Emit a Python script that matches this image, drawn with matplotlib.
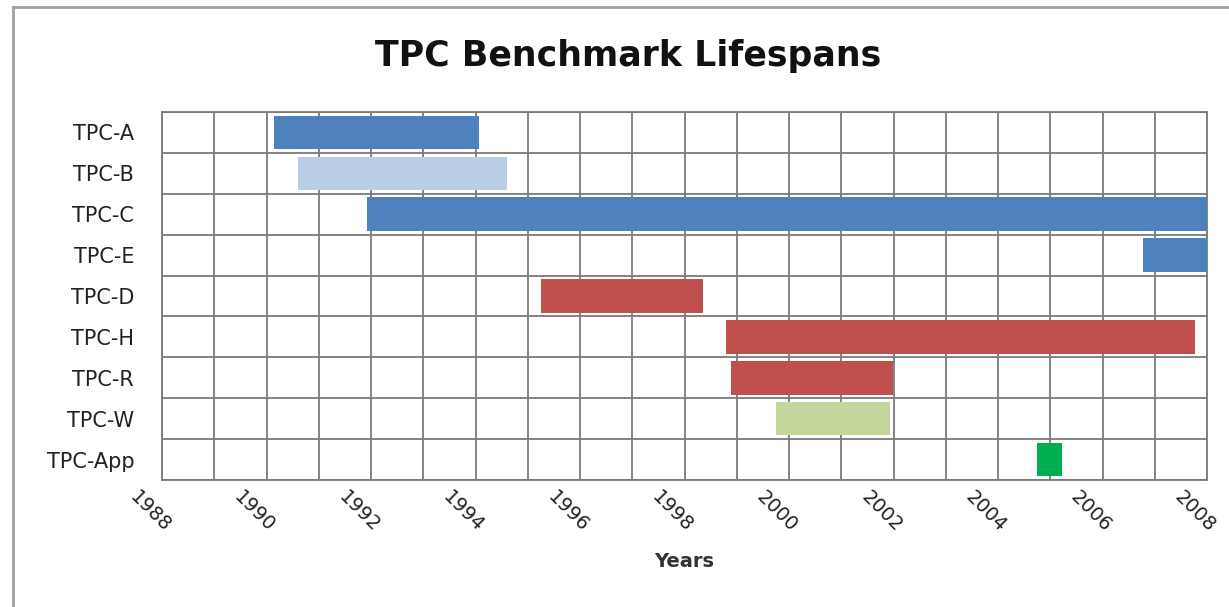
import matplotlib
matplotlib.use("Agg")
import matplotlib.pyplot as plt
import matplotlib.transforms as mtransforms
from matplotlib.lines import Line2D
import numpy as np

# benchmark lifespans (years)
benchmarks = ["TPC-A", "TPC-B", "TPC-C", "TPC-E", "TPC-D", "TPC-H", "TPC-R", "TPC-W", "TPC-App"]
start_year = [1990.14, 1990.6, 1991.92, 2006.78, 1995.25, 1998.79, 1998.89, 1999.76, 2004.74]
end_year = [1994.07, 1994.6, 2008.0, 2008.0, 1998.35, 2007.77, 2002.0, 2001.93, 2005.22]
bar_colors = ["#4F81BD", "#B9CDE5", "#4F81BD", "#4F81BD", "#C0504D",
              "#C0504D", "#C0504D", "#C3D69B", "#00B050"]
tick_years = list(range(1988, 2009, 2))

W, H, DPI = 1229, 607, 100
fig = plt.figure(figsize=(W / DPI, H / DPI), dpi=DPI)
fig.patch.set_facecolor("white")
ax = fig.add_axes([162 / W, 1 - 480 / H, (1207 - 162) / W, (480 - 112) / H])

y = np.arange(len(benchmarks))
widths = np.array(end_year) - np.array(start_year)
ax.barh(y, widths, left=start_year, height=0.82, color=bar_colors, zorder=3)

ax.set_xlim(1988, 2008)
ax.set_ylim(len(benchmarks) - 0.5, -0.5)

# grid: every year vertically, every row boundary horizontally
ax.set_xticks(np.arange(1989, 2009, 2), minor=True)
ax.set_xticks(tick_years)
ax.set_xticklabels([str(t) for t in tick_years])
ax.set_yticks(np.arange(-0.5, len(benchmarks), 1), minor=True)
ax.set_yticks(y)
ax.set_yticklabels(benchmarks, fontsize=15, color="#222222")
ax.xaxis.grid(True, which="both", color="#7a7a7a", linewidth=1.3)
ax.yaxis.grid(True, which="minor", color="#7a7a7a", linewidth=1.3)
ax.set_axisbelow(True)
ax.tick_params(which="both", length=0)
ax.tick_params(axis="y", pad=20)
ax.tick_params(axis="x", pad=5)
for s in ax.spines.values():
    s.set_color("#7a7a7a")
    s.set_linewidth(1.3)

off = mtransforms.ScaledTranslation(-12 / DPI, 0, fig.dpi_scale_trans)
for lbl in ax.get_xticklabels():
    lbl.set_rotation(-45)
    lbl.set_ha("center")
    lbl.set_va("top")
    lbl.set_fontsize(14)
    lbl.set_color("#222222")
    lbl.set_transform(lbl.get_transform() + off)

ax.set_xlabel("Years", fontsize=14, fontweight="bold", color="#333333", labelpad=12)

fig.text(628 / W, 1 - 56 / H, "TPC Benchmark Lifespans", ha="center", va="center",
         fontsize=25, fontweight="bold", family="DejaVu Sans", color="#111111")

# outer chart frame
fig.add_artist(Line2D([13 / W, 1], [1 - 7 / H, 1 - 7 / H], transform=fig.transFigure,
                      color="#a0a0a0", linewidth=2))
fig.add_artist(Line2D([13 / W, 13 / W], [0, 1 - 7 / H], transform=fig.transFigure,
                      color="#a0a0a0", linewidth=2))

fig.savefig("out.png", dpi=DPI)
